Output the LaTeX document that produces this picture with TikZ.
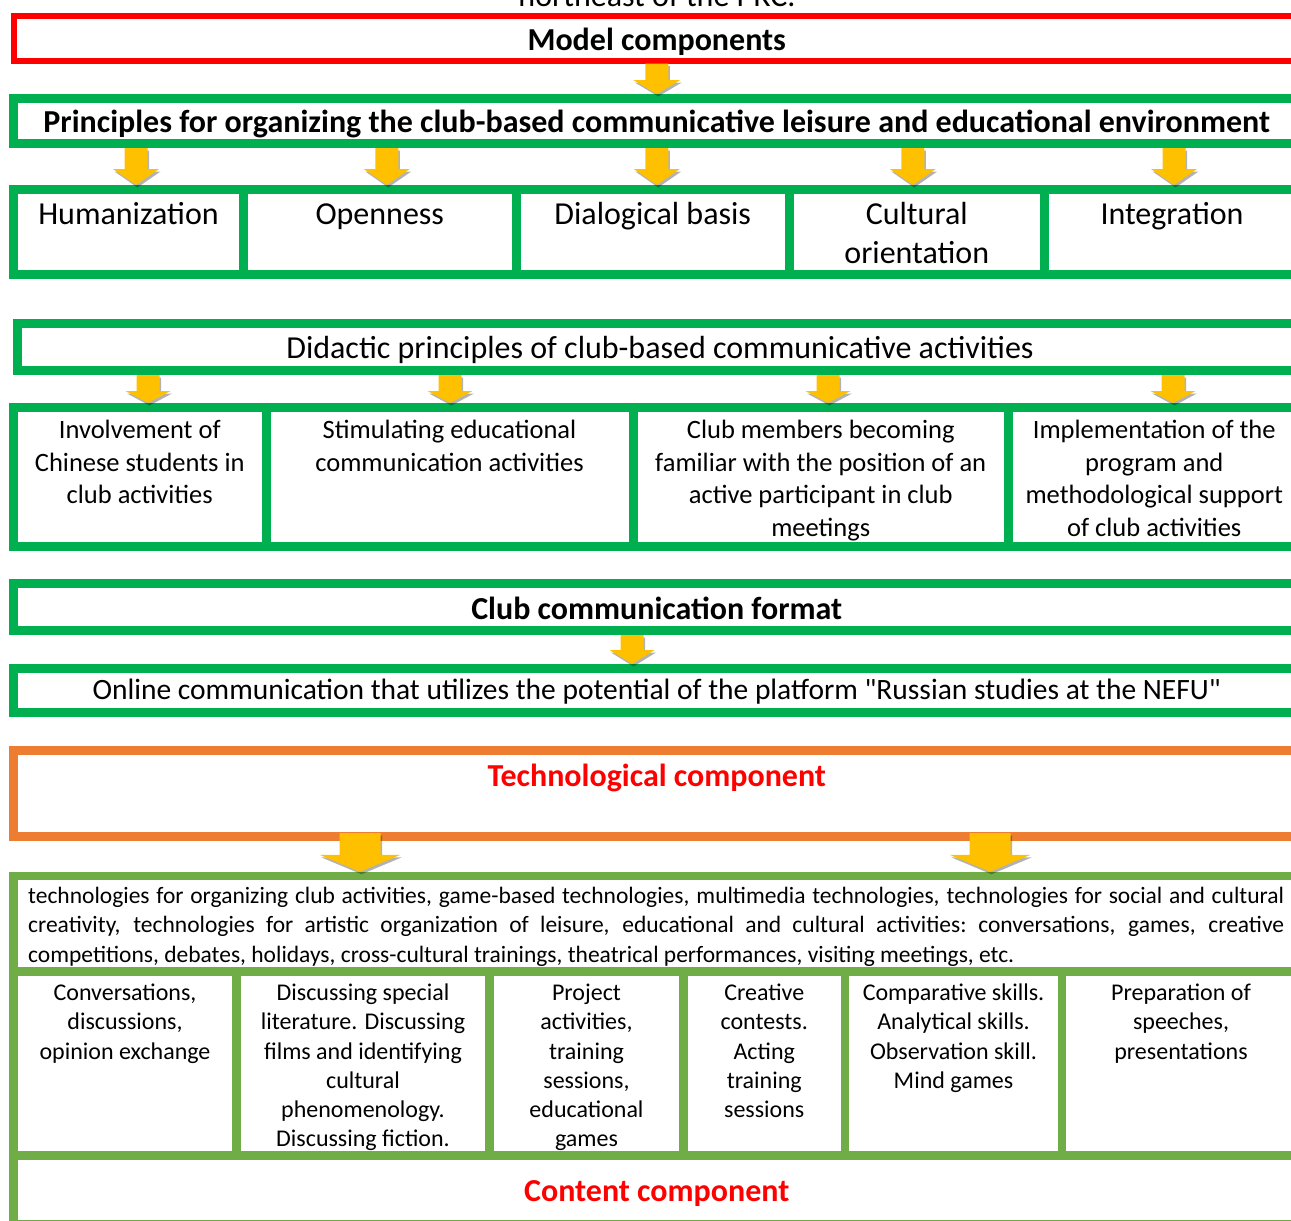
\documentclass[tikz,border=0pt]{standalone}
\usepackage{fontspec}
\setmainfont{Carlito}
\usetikzlibrary{calc,shadows}
\definecolor{bgreen}{HTML}{00B050}
\definecolor{lgreen}{HTML}{70AD47}
\definecolor{borange}{HTML}{ED7D31}
\definecolor{byellow}{HTML}{FFC000}
\newcommand\fbig{\fontsize{32}{39}\selectfont}
\newcommand\fmid{\fontsize{26.5}{32.7}\selectfont}
\newcommand\fsmall{\fontsize{24}{29.3}\selectfont}
\newcommand\topstrut{\rule{0pt}{0.8em}}
% block arrow: x point, upper anchor, lower anchor, shaft half, head half, head length
\newcommand\blkarrow[6]{%
  \coordinate (ax) at #1;
  \coordinate (ta) at (ax |- #2);
  \coordinate (tb) at (ax |- #3);
  \fill[yarrow] ($(ta)+(-#4,0)$) -- ($(ta)+(#4,0)$) -- ($(tb)+(#4,-#6)$) -- ($(tb)+(#5,-#6)$)
    -- (tb) -- ($(tb)+(-#5,-#6)$) -- ($(tb)+(-#4,-#6)$) -- cycle;}
\tikzset{
  gbox/.style={draw=bgreen, line width=9pt, inner sep=0pt, minimum width=1286.5pt},
  redbox/.style={draw=red, line width=6pt, inner sep=0pt, minimum width=1286.5pt},
  obox/.style={draw=borange, line width=9pt, inner sep=0pt, minimum width=1286.5pt},
  lbox/.style={draw=lgreen, line width=8.5pt, inner sep=0pt, minimum width=1286.5pt},
  gcell/.style={draw=bgreen, line width=9pt, inner sep=0pt},
  lcell/.style={draw=lgreen, line width=8.5pt, inner sep=0pt},
  title/.style={font=\fbig\bfseries, anchor=base, inner sep=0pt},
  ctext/.style={align=center, anchor=north, inner sep=0pt},
  yarrow/.style={fill=byellow, drop shadow={shadow xshift=1.5pt, shadow yshift=-2.5pt, fill=black, opacity=0.3}}
}
\begin{document}
\begin{tikzpicture}[x=1pt, y=-1pt]
\useasboundingbox (0,0) rectangle (1291,1221);
\node[font=\fbig, anchor=base, inner sep=0pt] (cap) at (657,6) {northeast of the PRC.};
% model components
\node[redbox, minimum height=44.5] (model) at (656.75,38.25) {};
\node[title] (model-t) at (656.75,50) {Model components};
\node[gbox, minimum height=45] (princ) at (656.75,121) {};
\node[title] (princ-t) at (656.75,132) {Principles for organizing the club-based communicative leisure and educational environment};
\blkarrow{(model.south)}{model.south}{princ.north}{11.5}{23.5}{14}
\foreach \n/\xa/\xb/\t in {hum/13.5/243.5/Humanization, opn/243.5/516/Openness, dia/516/789.5/Dialogical basis, cul/789.5/1044/{Cultural\\orientation}, itg/1044/1300/Integration} {
  \node[gcell, minimum width={\xb-\xa}, minimum height=85] (\n) at ({(\xa+\xb)/2},232) {};
  \node[ctext, font=\fbig] (\n-t) at ({(\xa+\xb)/2},198.5) {\topstrut\t};
}
\foreach \c/\d in {hum/7.5, opn/7, dia/4, cul/-4, itg/2}
  \blkarrow{([xshift=\d pt]\c.north)}{princ.south}{\c.north}{11.5}{23}{16};
% didactic principles
\node[gbox, minimum width=1286pt, minimum height=47] (didac) at (660,347) {};
\node[font=\fbig, anchor=base, inner sep=0pt] (didac-t) at (660,358) {Didactic principles of club-based communicative activities};
\foreach \n/\xa/\xb/\t in {inv/13.5/266/{Involvement of\\Chinese students in\\club activities}, stim/266/633/{Stimulating educational\\communication activities}, fam/633/1008.5/{Club members becoming\\familiar with the position of an\\active participant in club\\meetings}, impl/1008.5/1300/{Implementation of the\\program and\\methodological support\\of club activities}} {
  \node[gcell, minimum width={\xb-\xa}, minimum height=139] (\n) at ({(\xa+\xb)/2},477) {};
  \node[ctext, font=\fmid] (\n-t) at ({(\xa+\xb)/2},417) {\topstrut\t};
}
\foreach \c/\d in {inv/8.25, stim/0.5, fam/7.25, impl/18.75}
  \blkarrow{([xshift=\d pt]\c.north)}{didac.south}{\c.north}{11.5}{22.5}{12};
% club communication format
\node[gbox, minimum height=47] (club) at (656.75,607) {};
\node[title] (club-t) at (656.75,619.3) {Club communication format};
\node[gbox, minimum height=43.5] (online) at (656.75,690.25) {};
\node[font=\fontsize{29.5}{36}\selectfont, anchor=base, inner sep=0pt] (online-t) at (656.75,699.5) {Online communication that utilizes the potential of the platform \textquotedbl Russian studies at the NEFU\textquotedbl};
\blkarrow{([xshift=-24.75pt]club.south)}{club.south}{online.north}{11.5}{22.5}{14}
% technological component
\node[obox, minimum height=86] (tech) at (656.75,793.5) {};
\node[title, text=red] (tech-t) at (656.75,786) {Technological component};
\node[lbox, minimum height=348] (cont) at (656.75,1050) {};
\node[font=\fontsize{23.5}{29.5}\selectfont, align=left, anchor=base west, inner sep=0pt, text width=1256pt] (tech-list) at (28,903)
  {\spaceskip=0.226em plus 0.6em minus 0.09em
   \makebox[1256pt][s]{technologies for organizing club activities, game-based technologies, multimedia technologies, technologies for social and cultural}\\
   \makebox[1256pt][s]{creativity, technologies for artistic organization of leisure, educational and cultural activities: conversations, games, creative}\\
   competitions, debates, holidays, cross-cultural trainings, theatrical performances, visiting meetings, etc.};
\coordinate (techb) at ([yshift=8pt]tech.south);
\blkarrow{([xshift=-296.75pt]tech.south)}{techb}{cont.north}{20.5}{40.5}{17}
\blkarrow{([xshift=333.25pt]tech.south)}{techb}{cont.north}{20.5}{40.5}{17}
% content component
\foreach \n/\xa/\xb/\t in {c1/13.5/236.5/{Conversations,\\discussions,\\opinion exchange}, c2/236.5/489.5/{Discussing special\\literature. Discussing\\films and identifying\\cultural\\phenomenology.\\Discussing fiction.}, c3/489.5/683.5/{Project\\activities,\\training\\sessions,\\educational\\games}, c4/683.5/845/{Creative\\contests.\\Acting\\training\\sessions}, c5/845/1062/{Comparative skills.\\Analytical skills.\\Observation skill.\\Mind games}, c6/1062/1300/{Preparation of\\speeches,\\presentations}} {
  \node[lcell, minimum width={\xb-\xa}, minimum height=184] (\n) at ({(\xa+\xb)/2},1063.5) {};
  \node[ctext, font=\fsmall] (\n-t) at ({(\xa+\xb)/2},981) {\topstrut\t};
}
\node[title, text=red] (cont-t) at (656.75,1201) {Content component};
\end{tikzpicture}
\end{document}
